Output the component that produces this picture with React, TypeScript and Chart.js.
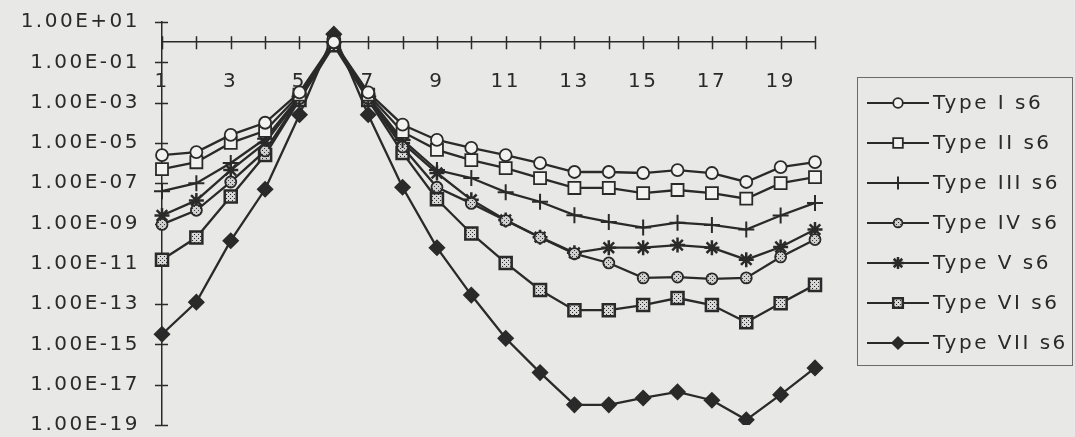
import React, { useEffect, useRef } from 'react';
import { Chart, registerables } from 'chart.js';
import { drawPoint } from 'chart.js/helpers';

Chart.register(...registerables);

const categories = ['1', '2', '3', '4', '5', '6', '7', '8', '9', '10', '11', '12', '13', '14', '15', '16', '17', '18', '19', '20'];
const xTickLabels = ['1', '3', '5', '7', '9', '11', '13', '15', '17', '19'];
const yTickLabels = ['1.00E+01', '1.00E-01', '1.00E-03', '1.00E-05', '1.00E-07', '1.00E-09', '1.00E-11', '1.00E-13', '1.00E-15', '1.00E-17', '1.00E-19'];
const seriesNames = ['Type I s6', 'Type II s6', 'Type III s6', 'Type IV s6', 'Type V s6', 'Type VI s6', 'Type VII s6'];

const typeI = [2.5e-6, 3.5e-6, 2.5e-5, 1e-4, 3.2e-3, 1, 3.2e-3, 8e-5, 1.4e-5, 5.6e-6, 2.5e-6, 1e-6, 3.6e-7, 3.6e-7, 3.2e-7, 4.5e-7, 3.2e-7, 1.15e-7, 6.3e-7, 1.1e-6];
const typeII = [5e-7, 1.1e-6, 1e-5, 4e-5, 2.5e-3, 1, 2.5e-3, 3.5e-5, 4.5e-6, 1.4e-6, 5.6e-7, 1.8e-7, 5.8e-8, 5.8e-8, 3.2e-8, 4.6e-8, 3.2e-8, 1.7e-8, 1e-7, 2e-7];
const typeIII = [4e-8, 1e-7, 1e-6, 1.6e-5, 2e-3, 1, 2e-3, 1.4e-5, 4.5e-7, 1.8e-7, 3.6e-8, 1.2e-8, 2.6e-9, 1.2e-9, 6.3e-10, 1.1e-9, 8.5e-10, 5e-10, 2.5e-9, 1.05e-8];
const typeIV = [9e-10, 4.5e-9, 1.15e-7, 4e-6, 1.6e-3, 1, 1.6e-3, 6.3e-6, 6.3e-8, 1e-8, 1.4e-9, 2e-10, 3.2e-11, 1.1e-11, 2e-12, 2.2e-12, 1.8e-12, 2e-12, 2.2e-11, 1.6e-10];
const typeV = [2.5e-9, 1.4e-8, 4.5e-7, 1e-5, 1.8e-3, 1, 1.8e-3, 1e-5, 3.2e-7, 1.5e-8, 1.5e-9, 2.1e-10, 3.5e-11, 6.3e-11, 6.3e-11, 8.5e-11, 6.3e-11, 1.6e-11, 6.8e-11, 5e-10];
const typeVI = [1.6e-11, 2e-10, 2.2e-8, 2.5e-6, 1.35e-3, 0.7, 1.35e-3, 3.2e-6, 1.6e-8, 3.2e-10, 1.1e-11, 5e-13, 5e-14, 5e-14, 9e-14, 2e-13, 9e-14, 1.25e-14, 1.1e-13, 9e-13];
const typeVII = [3.2e-15, 1.25e-13, 1.4e-10, 5e-8, 2.5e-4, 2.5, 2.5e-4, 6.3e-8, 6.3e-11, 2.8e-13, 2e-15, 4e-17, 1e-18, 1e-18, 2.2e-18, 4.4e-18, 1.7e-18, 1.8e-19, 3.2e-18, 6.8e-17];

const INK = '#2a2a2a';
const BG = '#e8e8e6';
const FONT_FAMILY = '"DejaVu Sans", sans-serif';
const LETTER_SPACING = '2.5px';

function makePattern(bg: string, dot: string): CanvasPattern | string {
  const c = document.createElement('canvas');
  c.width = 4;
  c.height = 4;
  const g = c.getContext('2d');
  if (!g) return bg;
  g.fillStyle = bg;
  g.fillRect(0, 0, 4, 4);
  g.fillStyle = dot;
  g.fillRect(0, 0, 1, 1);
  g.fillRect(2, 2, 1, 1);
  const ctx = document.createElement('canvas').getContext('2d');
  const p = ctx ? ctx.createPattern(c, 'repeat') : null;
  return p || bg;
}

const spacingPlugin = {
  id: 'spacing',
  beforeUpdate(chart: any) {
    chart.ctx.letterSpacing = LETTER_SPACING;
  },
  beforeDraw(chart: any) {
    const ctx = chart.ctx;
    ctx.letterSpacing = LETTER_SPACING;
    ctx.save();
    ctx.fillStyle = BG;
    ctx.fillRect(0, 0, chart.width, chart.height);
    ctx.restore();
  },
};

const crossTicksPlugin = {
  id: 'crossTicks',
  beforeDatasetsDraw(chart: any) {
    const ctx = chart.ctx;
    const xs = chart.scales.x;
    const ys = chart.scales.y;
    const axisX = chart.chartArea.left;
    const axisY = ys.getPixelForValue(1);
    ctx.save();
    ctx.strokeStyle = INK;
    ctx.lineWidth = 1.5;
    ctx.beginPath();
    ys.ticks.forEach((t: any) => {
      const py = Math.round(ys.getPixelForValue(t.value)) + 0.5;
      ctx.moveTo(axisX - 7, py);
      ctx.lineTo(axisX + 6, py);
    });
    categories.forEach((_, i) => {
      const px = Math.round(xs.getPixelForValue(i)) + 0.5;
      ctx.moveTo(px, axisY - 6);
      ctx.lineTo(px, axisY + 7);
    });
    ctx.stroke();
    ctx.restore();
  },
};

const boxLegendPlugin = {
  id: 'boxLegend',
  afterDraw(chart: any) {
    const ctx = chart.ctx;
    ctx.save();
    ctx.letterSpacing = LETTER_SPACING;
    ctx.strokeStyle = '#6a6a6a';
    ctx.lineWidth = 1;
    ctx.strokeRect(857.5, 77.5, 215, 288);
    chart.data.datasets.forEach((ds: any, i: number) => {
      const y = 103 + i * 40;
      ctx.strokeStyle = INK;
      ctx.lineWidth = 2.2;
      ctx.beginPath();
      ctx.moveTo(867, y);
      ctx.lineTo(929, y);
      ctx.stroke();
      ctx.fillStyle = ds.pointBackgroundColor;
      ctx.strokeStyle = ds.pointBorderColor;
      ctx.lineWidth = ds.pointBorderWidth;
      drawPoint(ctx, {
        pointStyle: ds.pointStyle,
        radius: ds.pointRadius * 0.8,
        borderWidth: ds.pointBorderWidth,
        rotation: 0,
      } as any, 898, y);
      ctx.fillStyle = INK;
      ctx.font = `20px ${FONT_FAMILY}`;
      ctx.textAlign = 'left';
      ctx.textBaseline = 'middle';
      ctx.fillText(ds.label, 933, y + 1);
    });
    ctx.restore();
  },
};

export default function App() {
  const canvasRef = useRef<HTMLCanvasElement | null>(null);

  useEffect(() => {
    const canvas = canvasRef.current;
    if (!canvas) return;
    const dotted = makePattern('#cfcfcf', '#3a3a3a');
    const checked = makePattern('#d8d8d8', '#2a2a2a');
    const yTickValues = yTickLabels.map(Number).sort((a, b) => a - b);

    const styles = [
      { data: typeI, pointStyle: 'circle', radius: 6, bg: '#f2f2f0', bw: 1.8 },
      { data: typeII, pointStyle: 'rect', radius: 8.5, bg: '#f2f2f0', bw: 1.8 },
      { data: typeIII, pointStyle: 'cross', radius: 8, bg: INK, bw: 2 },
      { data: typeIV, pointStyle: 'circle', radius: 5.5, bg: dotted, bw: 1.8 },
      { data: typeV, pointStyle: 'star', radius: 7.5, bg: INK, bw: 2.5 },
      { data: typeVI, pointStyle: 'rect', radius: 8.5, bg: checked, bw: 2.5 },
      { data: typeVII, pointStyle: 'rectRot', radius: 7.5, bg: INK, bw: 1.5 },
    ];

    const chart = new Chart(canvas, {
      type: 'line',
      data: {
        labels: categories,
        datasets: styles.map((s, i) => ({
          label: seriesNames[i],
          data: s.data,
          borderColor: INK,
          borderWidth: 2.3,
          pointStyle: s.pointStyle as any,
          pointRadius: s.radius,
          pointBackgroundColor: s.bg as any,
          pointBorderColor: INK,
          pointBorderWidth: s.bw,
          fill: false,
          tension: 0,
        })),
      },
      options: {
        animation: false,
        responsive: false,
        devicePixelRatio: 1,
        layout: { padding: { left: 0, right: 260, top: 22, bottom: 12 } },
        plugins: {
          legend: { display: false },
          tooltip: { enabled: false },
        },
        scales: {
          x: {
            type: 'category',
            position: { y: 1 } as any,
            offset: false,
            afterFit: (s: any) => {
              s.height = 0;
              s.paddingLeft = 0;
              s.paddingRight = 0;
              s.paddingTop = 0;
              s.paddingBottom = 0;
            },
            grid: { display: false, drawTicks: false },
            border: { display: true, color: INK, width: 1.5 },
            ticks: {
              autoSkip: false,
              maxRotation: 0,
              minRotation: 0,
              padding: 28,
              color: INK,
              font: { family: FONT_FAMILY, size: 20 },
              callback: (_v: any, i: number) => (xTickLabels.includes(categories[i]) ? categories[i] : ''),
            },
          },
          y: {
            type: 'logarithmic',
            min: 1e-19,
            max: 1e1,
            afterBuildTicks: (s: any) => {
              s.ticks = yTickValues.map((v) => ({ value: v }));
            },
            afterFit: (s: any) => {
              s.width = 162;
              s.paddingTop = 0;
              s.paddingBottom = 0;
              s.paddingLeft = 0;
              s.paddingRight = 0;
            },
            grid: { display: false, drawTicks: false },
            border: { display: true, color: INK, width: 1.5 },
            ticks: {
              padding: 22,
              color: INK,
              font: { family: FONT_FAMILY, size: 20 },
              callback: (v: any) => {
                const lv = Math.log10(Number(v));
                const found = yTickLabels.find((l) => Math.abs(Math.log10(Number(l)) - lv) < 1e-6);
                return found || '';
              },
            },
          },
        },
      },
      plugins: [spacingPlugin, crossTicksPlugin, boxLegendPlugin],
    });

    return () => {
      chart.destroy();
    };
  }, []);

  return (
    <div style={{ position: 'absolute', left: 0, top: 0, width: 1075, height: 437, background: BG }}>
      <canvas ref={canvasRef} width={1075} height={437} style={{ display: 'block' }} />
    </div>
  );
}
